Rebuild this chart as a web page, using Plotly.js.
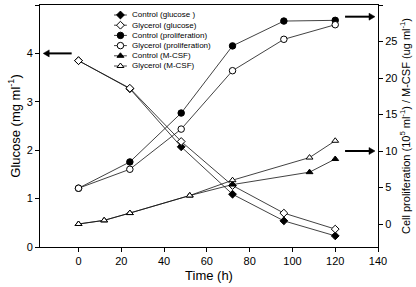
<!DOCTYPE html>
<html>
<head>
<meta charset="utf-8">
<script src="https://cdn.plot.ly/plotly-3.0.1.min.js"></script>
<style>html,body{margin:0;padding:0;background:#fff;}#chart{width:416px;height:287px;}</style>
</head>
<body>
<div id="chart"></div>
<script>
// ---- data ----
var timeGlucose = [0, 24, 48, 72, 96, 120];
var controlGlucose = [3.85, 3.27, 2.07, 1.09, 0.54, 0.23];
var glycerolGlucose = [3.85, 3.28, 2.18, 1.27, 0.70, 0.37];

var timeProlif = [0, 24, 48, 72, 96, 120];
var controlProlif = [4.9, 8.5, 15.2, 24.4, 27.8, 27.9];
var glycerolProlif = [4.9, 7.5, 13.0, 21.0, 25.3, 27.3];

var timeMcsf = [0, 12, 24, 52, 72, 108, 120];
var controlMcsf = [0.0, 0.5, 1.5, 3.9, 5.4, 7.1, 8.9];
var glycerolMcsf = [0.0, 0.5, 1.5, 3.9, 6.0, 9.1, 11.4];

var legendLabels = ['Control (glucose )', 'Glycerol (glucose)', 'Control (proliferation)',
                    'Glycerol (proliferation)', 'Control (M-CSF)', 'Glycerol (M-CSF)'];
var xTicks = [0, 20, 40, 60, 80, 100, 120, 140];
var yTicks = [0, 1, 2, 3, 4, 5];
var y2Ticks = [0, 5, 10, 15, 20, 25, 30];

// ---- styles ----
var FONT = 'Liberation Sans, Arial, sans-serif';
var LINE = {color: '#111', width: 0.8};
var styles = [
  {symbol: 'diamond', fill: '#000', size: 6},
  {symbol: 'diamond', fill: '#fff', size: 6},
  {symbol: 'circle', fill: '#000', size: 6.5},
  {symbol: 'circle', fill: '#fff', size: 6.5},
  {symbol: 'triangle-up', fill: '#000', size: 6},
  {symbol: 'triangle-up', fill: '#fff', size: 6}
];
function mk(i) {
  var s = styles[i];
  return {symbol: s.symbol, size: s.size, color: s.fill, line: {color: '#000', width: 1}};
}
function series(x, y, i, yaxis) {
  return {x: x, y: y, yaxis: yaxis, type: 'scatter', mode: 'lines+markers',
          line: LINE, marker: mk(i), showlegend: false, hoverinfo: 'skip', cliponaxis: false};
}

var traces = [
  series(timeMcsf, controlMcsf, 4, 'y2'),
  series(timeMcsf, glycerolMcsf, 5, 'y2'),
  series(timeProlif, controlProlif, 2, 'y2'),
  series(timeProlif, glycerolProlif, 3, 'y2'),
  series(timeGlucose, controlGlucose, 0, 'y'),
  series(timeGlucose, glycerolGlucose, 1, 'y')
];

// ---- hand-made compact legend (overlay axes in paper units) ----
var annotations = [];
var legX0 = 0.219, legX1 = 0.257, legXm = 0.238, legTextX = 0.266;
var legTop = (247 - 15) / 242, legStep = 10.2 / 242;
legendLabels.forEach(function (lab, i) {
  var yy = legTop - i * legStep;
  traces.push({x: [legX0, legX1], y: [yy, yy], xaxis: 'x2', yaxis: 'y3', type: 'scatter',
               mode: 'lines', line: LINE, showlegend: false, hoverinfo: 'skip'});
  traces.push({x: [legXm], y: [yy], xaxis: 'x2', yaxis: 'y3', type: 'scatter',
               mode: 'markers', marker: mk(i), showlegend: false, hoverinfo: 'skip'});
  annotations.push({xref: 'paper', yref: 'paper', x: legTextX, y: yy, xanchor: 'left', yanchor: 'middle',
                    text: lab, showarrow: false, font: {family: FONT, size: 8, color: '#000'}});
});

// ---- arrows pointing to the axes (shapes: shaft + pixel-sized head) ----
var shapes = [];
function arrow(yref, tipX, tailX, yv, dir) {
  // dir = -1: points left; +1: points right
  var back = 1.8 * dir; // shaft stops a little behind the tip (in hours)
  shapes.push({type: 'line', xref: 'x', yref: yref, x0: tailX, x1: tipX - back, y0: yv, y1: yv,
               line: {color: '#000', width: 2}});
  var L = 6 * -dir, H = 3.5;
  shapes.push({type: 'path', xref: 'x', yref: yref, xsizemode: 'pixel', ysizemode: 'pixel',
               xanchor: tipX, yanchor: yv,
               path: 'M0,0 L' + L + ',' + H + ' L' + L + ',' + (-H) + ' Z',
               fillcolor: '#000', line: {color: '#000', width: 0.5}});
}
arrow('y', -16.5, -3.2, 4, -1);
arrow('y2', 138.6, 124.6, 28.4, 1);
arrow('y2', 138.6, 124.6, 10, 1);

var axisCommon = {showgrid: false, zeroline: false, showline: true, linecolor: '#000', linewidth: 1,
                  ticks: 'outside', ticklen: 4, tickwidth: 1, tickcolor: '#000',
                  tickfont: {family: FONT, size: 11, color: '#000'}};

var layout = {
  width: 416, height: 287,
  margin: {l: 40, r: 38, t: 5, b: 40},
  paper_bgcolor: '#fff', plot_bgcolor: '#fff',
  font: {family: FONT, color: '#000'},
  showlegend: false,
  xaxis: Object.assign({}, axisCommon, {range: [-18, 140], tickvals: xTicks, mirror: true,
    title: {text: 'Time (h)', font: {family: FONT, size: 13}, standoff: 4}}),
  yaxis: Object.assign({}, axisCommon, {range: [0, 5], tickvals: yTicks,
    title: {text: 'Glucose (mg ml<sup>-1</sup>)', font: {family: FONT, size: 13}, standoff: 3}}),
  yaxis2: Object.assign({}, axisCommon, {range: [-3.15, 30], tickvals: y2Ticks, overlaying: 'y', side: 'right',
    title: {text: 'Cell proliferation (10<sup>5</sup> ml<sup>-1</sup>) / M-CSF (ug ml<sup>-1</sup>)',
            font: {family: FONT, size: 11}, standoff: 5}}),
  xaxis2: {overlaying: 'x', range: [0, 1], visible: false, fixedrange: true},
  yaxis3: {overlaying: 'y', range: [0, 1], visible: false, fixedrange: true},
  annotations: annotations,
  shapes: shapes
};

Plotly.newPlot('chart', traces, layout, {staticPlot: true, displayModeBar: false});
</script>
</body>
</html>
